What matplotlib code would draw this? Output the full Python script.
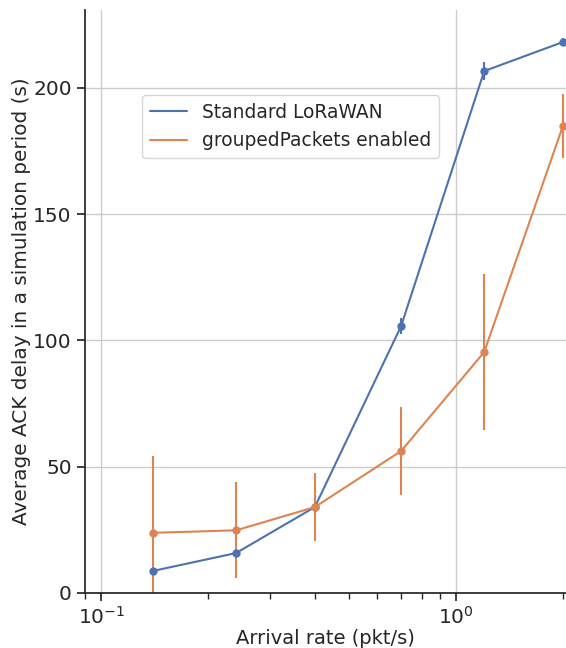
import numpy as np
import matplotlib
matplotlib.use("Agg")
import matplotlib.pyplot as plt
import seaborn as sns
from matplotlib.lines import Line2D

# arrival rates (pkt/s)
rates = [0.14, 0.24, 0.4, 0.7, 1.2, 2.0]

# Standard LoRaWAN
std_mean = [8.7, 15.8, 34.0, 105.7, 206.7, 218.2]
std_err = [0.8, 1.0, 1.2, 3.0, 3.5, 1.5]

# groupedPackets enabled
grp_mean = [23.8, 24.8, 34.0, 56.2, 95.4, 185.0]
grp_err = [30.5, 19.0, 13.5, 17.3, 30.8, 12.7]

series_labels = ["Standard LoRaWAN", "groupedPackets enabled"]


def main():
    sns.set_theme(style="ticks")
    plt.rcParams['font.family'] = ['DejaVu Sans']
    blue, orange = sns.color_palette("deep")[0], sns.color_palette("deep")[1]

    fig = plt.figure(figsize=(5.66, 6.48), dpi=100)
    ax = fig.add_axes([0.150, 0.085, 0.850, 0.900])

    ax.errorbar(rates, std_mean, yerr=std_err, color=blue, marker='o',
                markersize=5, linewidth=1.5, elinewidth=1.5,
                label=series_labels[0])
    ax.errorbar(rates, grp_mean, yerr=grp_err, color=orange, marker='o',
                markersize=5, linewidth=1.5, elinewidth=1.5,
                label=series_labels[1])

    ax.set_xscale('log')
    ax.set_xlim(0.09, 2.04)
    ax.set_ylim(0, 231)
    ax.set_yticks([0, 50, 100, 150, 200])
    ax.grid(True, which='major', color='#cccccc', linewidth=1)
    ax.set_axisbelow(True)
    sns.despine(ax=ax)
    ax.spines['left'].set_color('#262626')
    ax.spines['bottom'].set_color('#262626')

    ax.tick_params(axis='both', which='major', labelsize=14.5, length=6,
                   color='#262626', labelcolor='#262626')
    ax.tick_params(axis='x', which='minor', length=4, color='#262626')
    ax.set_xlabel('Arrival rate (pkt/s)', fontsize=14, color='#262626',
                  labelpad=1)
    ax.set_ylabel('Average ACK delay in a simulation period (s)', fontsize=14.4,
                  color='#262626', labelpad=1.5)

    # legend shows plain line handles
    handles = [Line2D([], [], color=blue, linewidth=1.5),
               Line2D([], [], color=orange, linewidth=1.5)]
    leg = ax.legend(handles, series_labels, loc='upper left',
                    bbox_to_anchor=(0.10, 0.869), fontsize=13.4,
                    frameon=True, framealpha=0.8, edgecolor='#cccccc')
    for t in leg.get_texts():
        t.set_color('#262626')

    fig.savefig('out.png', dpi=100)
    plt.close(fig)


if __name__ == "__main__":
    main()
